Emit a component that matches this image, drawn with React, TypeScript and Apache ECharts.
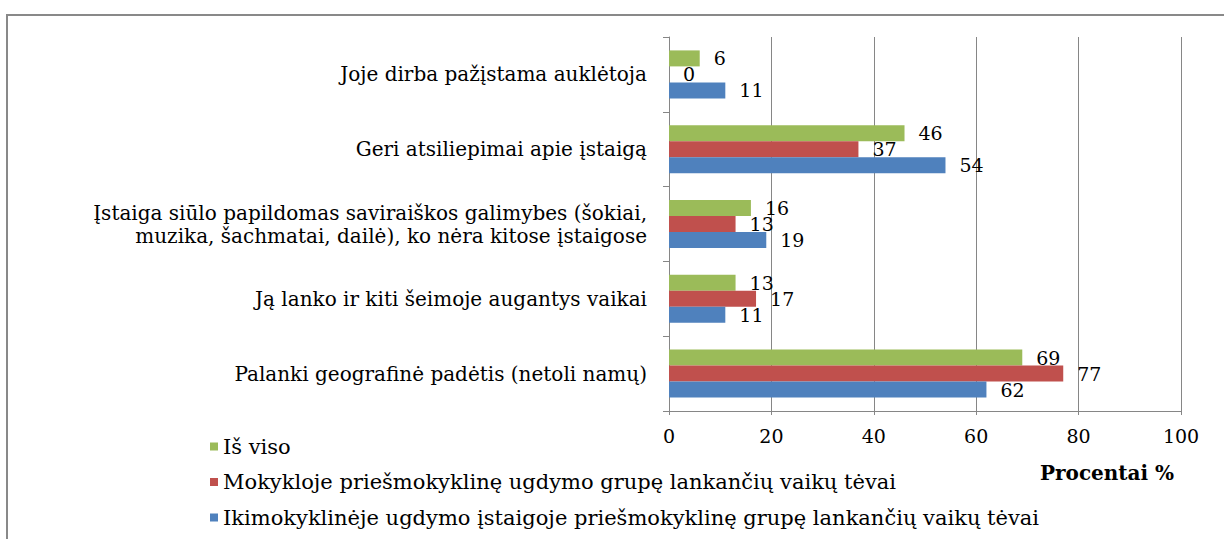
import React, { useEffect, useRef } from "react";
import * as echarts from "echarts";

const categories = [
  "Palanki geografinė padėtis (netoli namų)",
  "Ją lanko ir kiti šeimoje augantys vaikai",
  "Įstaiga siūlo papildomas saviraiškos galimybes (šokiai,\nmuzika, šachmatai, dailė), ko nėra kitose įstaigose",
  "Geri atsiliepimai apie įstaigą",
  "Joje dirba pažįstama auklėtoja",
];

const seriesNames = [
  "Iš viso",
  "Mokykloje priešmokyklinę ugdymo grupę lankančių vaikų tėvai",
  "Ikimokyklinėje ugdymo įstaigoje priešmokyklinę grupę lankančių vaikų tėvai",
];

const isVisoValues = [69, 13, 16, 46, 6];
const mokyklojeValues = [77, 17, 13, 37, 0];
const ikimokyklinejeValues = [62, 11, 19, 54, 11];

const xTicks = [0, 20, 40, 60, 80, 100];

const colors = ["#9BBB59", "#C0504D", "#4F81BD"];

const FONT = "DejaVu Serif";

export default function App() {
  const ref = useRef<HTMLDivElement>(null);

  useEffect(() => {
    if (!ref.current) return;
    const chart = echarts.init(ref.current, undefined, { renderer: "svg" });
    const labelStyle = {
      show: true,
      position: "right" as const,
      distance: 14,
      fontFamily: FONT,
      fontSize: 19,
      color: "#000",
    };
    const mk = (name: string, data: number[], color: string) => ({
      name,
      type: "bar",
      data,
      barWidth: 16,
      barGap: "0%",
      itemStyle: { color },
      label: labelStyle,
    });
    chart.setOption({
      animation: false,
      backgroundColor: "#fff",
      grid: { left: 669, top: 37, right: 43, bottom: 128, containLabel: false },
      xAxis: {
        type: "value",
        min: xTicks[0],
        max: xTicks[xTicks.length - 1],
        interval: 20,
        axisLine: { show: true, lineStyle: { color: "#868686" } },
        axisTick: { show: true, length: 4, lineStyle: { color: "#868686" } },
        splitLine: { show: true, lineStyle: { color: "#868686", width: 1 } },
        axisLabel: { fontFamily: FONT, fontSize: 19, color: "#000", margin: 15 },
      },
      yAxis: {
        type: "category",
        data: categories,
        axisLine: { show: true, lineStyle: { color: "#868686" } },
        axisTick: { show: true, length: 6, lineStyle: { color: "#868686" } },
        axisLabel: {
          fontFamily: FONT,
          fontSize: 20,
          color: "#000",
          margin: 22,
          align: "right",
          lineHeight: 23,
        },
      },
      legend: {
        orient: "vertical",
        left: 205,
        top: 431,
        itemWidth: 8,
        itemHeight: 8,
        itemGap: 14.5,
        icon: "rect",
        data: seriesNames,
        textStyle: { fontFamily: FONT, fontSize: 21, color: "#000" },
      },
      series: [
        mk(seriesNames[0], isVisoValues, colors[0]),
        mk(seriesNames[1], mokyklojeValues, colors[1]),
        mk(seriesNames[2], ikimokyklinejeValues, colors[2]),
      ],
      graphic: [
        {
          type: "line",
          shape: { x1: 6, y1: 15, x2: 1224, y2: 15 },
          style: { stroke: "#898989", lineWidth: 2 },
        },
        {
          type: "line",
          shape: { x1: 7, y1: 14, x2: 7, y2: 539 },
          style: { stroke: "#898989", lineWidth: 2 },
        },
        {
          type: "text",
          left: 1040,
          top: 463,
          style: {
            text: "Procentai %",
            font: `bold 20px "${FONT}"`,
            fill: "#000",
          },
        },
      ],
    });
    return () => chart.dispose();
  }, []);

  return (
    <div
      ref={ref}
      style={{ position: "absolute", left: 0, top: 0, width: 1224, height: 539 }}
    />
  );
}
